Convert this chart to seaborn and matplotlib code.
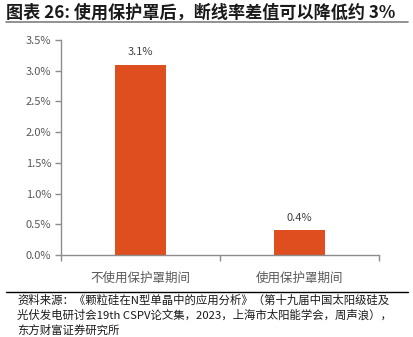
import matplotlib
matplotlib.use("Agg")
import matplotlib.pyplot as plt
import seaborn as sns
import pandas as pd
from matplotlib.ticker import FuncFormatter, MultipleLocator
from matplotlib.lines import Line2D

categories = ["不使用保护罩期间", "使用保护罩期间"]
breakage_diff = [3.1, 0.4]  # 断线率差值, %

title_text = "图表 26: 使用保护罩后，断线率差值可以降低约 3%"
source_lines = ["资料来源：《颗粒硅在N型单晶中的应用分析》（第十九届中国太阳级硅及",
                "光伏发电研讨会19th CSPV论文集，2023，上海市太阳能学会，周声浪），",
                "东方财富证券研究所"]

sns.set_theme(style="white")
plt.rcParams["font.family"] = ["Noto Sans CJK SC", "DejaVu Sans"]

df = pd.DataFrame({"cat": categories, "val": breakage_diff})

W, H = 414, 337
fig = plt.figure(figsize=(W / 100, H / 100), dpi=100)
ax = fig.add_axes([61 / W, 1 - 255 / H, 318 / W, 215 / H])

bar_color = "#DF4E1F"
sns.barplot(data=df, x="cat", y="val", color=bar_color, width=0.315,
            saturation=1, ax=ax, edgecolor="none")

ax.set_xlim(-0.5, 1.5)
ax.set_ylim(0, 3.5)
ax.yaxis.set_major_locator(MultipleLocator(0.5))
ax.yaxis.set_major_formatter(FuncFormatter(lambda v, p: f"{v:.1f}%"))
ax.set_xlabel("")
ax.set_ylabel("")

for s in ["top", "right"]:
    ax.spines[s].set_visible(False)
for s in ["left", "bottom"]:
    ax.spines[s].set_color("#8C8C8C")
    ax.spines[s].set_linewidth(1.0)

ax.tick_params(axis="y", which="major", left=True, length=4, width=1,
               color="#8C8C8C", labelsize=8, labelcolor="#595959", pad=3)
ax.tick_params(axis="x", which="major", bottom=False, labelsize=9,
               labelcolor="#595959", pad=6)
# category-boundary ticks on the x axis
ax.set_xticks([-0.5, 0.5, 1.5], minor=True)
ax.tick_params(axis="x", which="minor", bottom=True, length=4, width=1,
               color="#8C8C8C")

for i, v in enumerate(breakage_diff):
    ax.text(i, v + 0.12, f"{v:.1f}%", ha="center", va="bottom",
            fontsize=8, color="#404040")

fig.text(6 / W, 1 - 13 / H, title_text, ha="left", va="center",
         fontsize=12.3, fontweight="bold", color="#1A1A1A")
fig.add_artist(Line2D([6 / W, 408 / W], [1 - 22 / H, 1 - 22 / H],
                      transform=fig.transFigure, color="#7F7F7F", lw=1.2))
fig.add_artist(Line2D([6 / W, 408 / W], [1 - 292 / H, 1 - 292 / H],
                      transform=fig.transFigure, color="#000000", lw=1.0))
for k, line in enumerate(source_lines):
    fig.text(17 / W, 1 - (300 + 15 * k) / H, line, ha="left", va="center",
             fontsize=8.2, color="#1A1A1A")

fig.savefig("out.png", dpi=100)
